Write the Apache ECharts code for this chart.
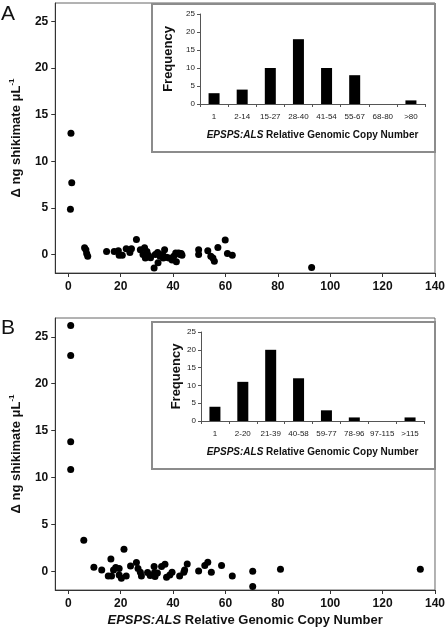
<!DOCTYPE html>
<html><head><meta charset="utf-8">
<script src="https://cdn.jsdelivr.net/npm/echarts@6/dist/echarts.min.js"></script>
<style>html,body{margin:0;padding:0;background:#fff}#c{width:448px;height:628px}</style>
</head><body><div id="c"></div>
<script>
// ---- data ----
const pointsA = [[1,13],[1.3,7.7],[0.8,4.85],
[6.2,0.7],[6.7,0.5],[7,0.1],[7.4,-0.2],
[14.6,0.3],[17.5,0.3],[19.1,0.4],[19.4,-0.1],[20.6,-0.1],[22.1,0.6],[23.5,0.2],[24.1,0.6],[26,1.6],[27.5,0.5],
[28.5,0],[29.1,0.7],[29.4,-0.4],[30,0.3],[30.6,-0.1],[31.4,-0.35],[32.75,-1.45],[33.2,0],[34.1,0.2],[34.25,-0.9],[35,-0.2],[36,0],[36.25,-0.4],[36.75,0.5],[37.5,-0.3],[38.4,-0.4],[39.6,-0.6],[40.25,-0.2],
[41,0.15],[41.25,-0.8],[42.1,0.15],[42.6,0],[43.1,0.1],[43.4,-0.1],[49.75,0.5],[49.75,0],[53.25,0.4],[54.4,-0.2],
[55.75,-0.75],[55.2,-0.4],[57.1,0.75],[59.9,1.55],[60.75,0.1],[62.6,-0.1],
[92.9,-1.4]];
const pointsB = [[0.9,26.2],[0.9,23.0],[0.9,13.8],[0.9,10.85],
[5.9,3.3],[9.75,0.43],[12.75,0.14],[15.25,-0.5],[16.25,1.3],[16.5,-0.5],[17.25,0.14],[18.1,0.4],[19.4,0.3],[19.4,-0.4],[20.25,-0.75],
[21.25,2.34],[22.1,-0.5],[23.75,0.57],[26,0.92],[26.6,0.3],[27.5,-0.1],[27.9,-0.5],[30.25,-0.14],[31.25,-0.46],[32.75,0.5],[32.9,-0.14],[33.1,-0.57],[34,-0.2],[35.6,0.5],[36.9,0.74],[37.5,-0.64],[38.75,-0.4],[39.6,-0.1],
[42.5,-0.5],[44.1,-0.1],[44.4,0.14],[45.4,0.78],[49.75,0.03],[52.1,0.6],[53.25,0.96],[54.6,-0.1],[58.5,0.6],
[62.6,-0.5],[70.4,0],[70.4,-1.63],[81,0.2],[134.4,0.2]];
const histCatsA = ['1','2-14','15-27','28-40','41-54','55-67','68-80','>80'];
const histValsA = [3,4,10,18,10,8,0,1];
const histCatsB = ['1','2-20','21-39','40-58','59-77','78-96','97-115','>115'];
const histValsB = [4,11,20,12,3,1,0,1];
const mainXTicks = [0,20,40,60,80,100,120,140];
const mainYTicks = [0,5,10,15,20,25];
const xRange = [-5,140];
const yRange = [-2,27];
const freqRange = [0,25];

// ---- styles ----
const FONT = '"Liberation Sans", Arial, Helvetica, sans-serif';
const yTitle = 'Δ ng shikimate μL{s|-1}';
const xTitle = '{i|EPSPS:ALS} Relative Genomic Copy Number';

function mainX(gi, showName){
  return {
    gridIndex: gi, type:'value', min:xRange[0], max:xRange[1],
    splitLine:{show:false},
    axisLine:{onZero:false, lineStyle:{color:'#333', width:1}},
    axisTick:{show:true, length:4, customValues: mainXTicks, lineStyle:{color:'#333'}},
    axisLabel:{customValues: mainXTicks, fontSize:12, fontWeight:'bold', color:'#111', fontFamily:FONT, margin:8},
    name: showName ? xTitle : '', nameLocation:'middle', nameGap:24,
    nameTextStyle:{fontSize:13, fontWeight:'bold', color:'#111', fontFamily:FONT,
      rich:{i:{fontSize:13, fontWeight:'bold', fontStyle:'italic', color:'#111', fontFamily:FONT}}}
  };
}
function mainY(gi){
  return {
    gridIndex: gi, type:'value', min:yRange[0], max:yRange[1],
    splitLine:{show:false},
    axisLine:{show:true, onZero:false, lineStyle:{color:'#333', width:1}},
    axisTick:{show:true, length:4, customValues: mainYTicks, lineStyle:{color:'#333'}},
    axisLabel:{customValues: mainYTicks, fontSize:12, fontWeight:'bold', color:'#111', fontFamily:FONT, margin:7},
    name: yTitle, nameLocation:'middle', nameGap:28,
    nameTextStyle:{fontSize:13, fontWeight:'bold', color:'#111', fontFamily:FONT, lineHeight:16,
      rich:{s:{fontSize:8, fontWeight:'bold', color:'#111', fontFamily:FONT, verticalAlign:'top', lineHeight:16}}}
  };
}
function insetX(gi, cats){
  return {
    gridIndex: gi, type:'category', data: cats, z:5,
    axisLine:{lineStyle:{color:'#555', width:1}},
    axisTick:{show:true, length:3, lineStyle:{color:'#555'}},
    axisLabel:{fontSize:8, color:'#222', fontFamily:FONT, margin:9, interval:0},
    name: xTitle, nameLocation:'middle', nameGap:26,
    nameTextStyle:{fontSize:10, fontWeight:'bold', color:'#111', fontFamily:FONT,
      rich:{i:{fontSize:10, fontWeight:'bold', fontStyle:'italic', color:'#111', fontFamily:FONT}}}
  };
}
function insetY(gi){
  return {
    gridIndex: gi, type:'value', min:freqRange[0], max:freqRange[1], interval:5, z:5,
    splitLine:{show:false},
    axisLine:{show:true, lineStyle:{color:'#555', width:1}},
    axisTick:{show:true, length:3, lineStyle:{color:'#555'}},
    axisLabel:{fontSize:8, color:'#222', fontFamily:FONT, margin:5},
    name:'Frequency', nameLocation:'middle', nameGap:17,
    nameTextStyle:{fontSize:13, fontWeight:'bold', color:'#111', fontFamily:FONT}
  };
}

const chart = echarts.init(document.getElementById('c'), null, {renderer:'canvas'});
chart.setOption({
  backgroundColor:'#fff',
  animation:false,
  grid:[
    {left:50, top:3, width:387, height:270, show:true, borderColor:'#666', borderWidth:1, backgroundColor:'transparent'},
    {left:200, top:14, width:225, height:90},
    {left:50, top:318, width:387, height:272, show:true, borderColor:'#666', borderWidth:1, backgroundColor:'transparent'},
    {left:201, top:332, width:223, height:89}
  ],
  xAxis:[mainX(0,false), insetX(1,histCatsA), mainX(2,true), insetX(3,histCatsB)],
  yAxis:[mainY(0), insetY(1), mainY(2), insetY(3)],
  graphic:[
    {type:'rect', z:1, shape:{x:152, y:4, width:283, height:148}, style:{fill:'#fff', stroke:'#8c8c8c', lineWidth:2}},
    {type:'rect', z:1, shape:{x:152, y:322, width:283, height:147}, style:{fill:'#fff', stroke:'#8c8c8c', lineWidth:2}},
    {type:'text', z:10, left:1, top:4, style:{text:'A', fontSize:21, fontFamily:FONT, fill:'#111'}},
    {type:'text', z:10, left:1, top:318, style:{text:'B', fontSize:21, fontFamily:FONT, fill:'#111'}}
  ],
  series:[
    {type:'scatter', xAxisIndex:0, yAxisIndex:0, data:pointsA, symbolSize:7, itemStyle:{color:'#000', opacity:1}},
    {type:'bar', xAxisIndex:1, yAxisIndex:1, data:histValsA, barWidth:11, z:6, itemStyle:{color:'#000'}},
    {type:'scatter', xAxisIndex:2, yAxisIndex:2, data:pointsB, symbolSize:7, itemStyle:{color:'#000', opacity:1}},
    {type:'bar', xAxisIndex:3, yAxisIndex:3, data:histValsB, barWidth:11, z:6, itemStyle:{color:'#000'}}
  ]
});
</script>
</body></html>
